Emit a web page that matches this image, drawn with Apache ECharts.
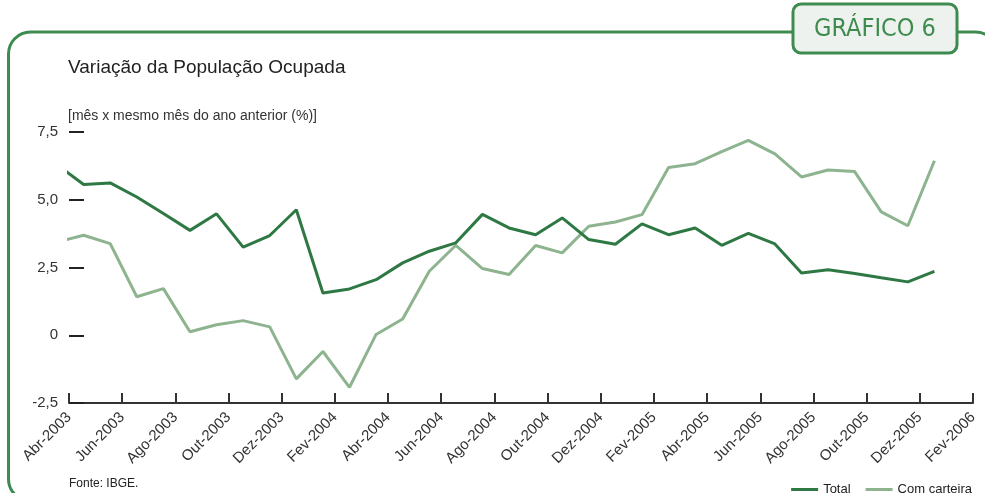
<!DOCTYPE html>
<html>
<head>
<meta charset="utf-8">
<script src="https://cdn.jsdelivr.net/npm/echarts@6/dist/echarts.min.js"></script>
<style>
html,body{margin:0;padding:0;background:#fff;}
#chart{width:985px;height:493px;}
</style>
</head>
<body>
<div id="chart"></div>
<script>
// Data months (first month only partly visible: it sits before the axis start)
const dataMonths = ['Mar-2003','Abr-2003','Mai-2003','Jun-2003','Jul-2003','Ago-2003','Set-2003','Out-2003','Nov-2003','Dez-2003',
  'Jan-2004','Fev-2004','Mar-2004','Abr-2004','Mai-2004','Jun-2004','Jul-2004','Ago-2004','Set-2004','Out-2004','Nov-2004','Dez-2004',
  'Jan-2005','Fev-2005','Mar-2005','Abr-2005','Mai-2005','Jun-2005','Jul-2005','Ago-2005','Set-2005','Out-2005','Nov-2005','Dez-2005'];
const totalValues = [6.29, 5.56, 5.62, 5.10, 4.49, 3.87, 4.48, 3.25, 3.68, 4.63, 1.56, 1.71, 2.05, 2.67, 3.10, 3.41, 4.46,
  3.96, 3.71, 4.33, 3.53, 3.36, 4.11, 3.71, 3.96, 3.32, 3.76, 3.37, 2.30, 2.42, 2.28, 2.12, 1.97, 2.36];
const carteiraValues = [3.44, 3.69, 3.38, 1.42, 1.72, 0.13, 0.39, 0.54, 0.31, -1.61, -0.60, -1.92, 0.03, 0.60, 2.36, 3.32, 2.46,
  2.24, 3.31, 3.04, 4.02, 4.18, 4.45, 6.19, 6.33, 6.78, 7.19, 6.69, 5.84, 6.10, 6.04, 4.55, 4.04, 6.44];
const xTickLabels = ['Abr-2003','Jun-2003','Ago-2003','Out-2003','Dez-2003','Fev-2004','Abr-2004','Jun-2004','Ago-2004',
  'Out-2004','Dez-2004','Fev-2005','Abr-2005','Jun-2005','Ago-2005','Out-2005','Dez-2005','Fev-2006'];
const yTickValues = [-2.5, 0, 2.5, 5, 7.5];
const yTickLabels = ['-2,5', '0', '2,5', '5,0', '7,5'];

// month position on the axis: months since Abr-2003, points plotted mid-month
const firstMonthOffset = -1;
const inMonthOffset = 0.55;
const toPairs = vals => vals.map((v, i) => [i + firstMonthOffset + inMonthOffset, v]);

const GREEN = '#3d8b4f';
const chart = echarts.init(document.getElementById('chart'), null, {renderer: 'canvas'});
chart.setOption({
  animation: false,
  backgroundColor: '#ffffff',
  textStyle: {fontFamily: 'Liberation Sans'},
  graphic: [
    {type: 'rect', z: 0, shape: {x: 8.5, y: 32, width: 989, height: 469, r: 22},
      style: {fill: 'none', stroke: GREEN, lineWidth: 3}},
    {type: 'rect', z: 1, shape: {x: 793, y: 4, width: 164, height: 49, r: 8},
      style: {fill: '#eef2ee', stroke: GREEN, lineWidth: 3}},
    {type: 'text', z: 2, x: 875, y: 29,
      style: {text: 'GRÁFICO 6', fill: GREEN, font: '25px "Liberation Sans Narrow", "DejaVu Sans Condensed", sans-serif',
        textAlign: 'center', textVerticalAlign: 'middle'}},
    {type: 'text', z: 2, x: 68, y: 68,
      style: {text: 'Variação da População Ocupada', fill: '#222', font: '19px "Liberation Sans", sans-serif',
        textVerticalAlign: 'middle'}},
    {type: 'text', z: 2, x: 68, y: 116,
      style: {text: '[mês x mesmo mês do ano anterior (%)]', fill: '#333', font: '14px "Liberation Sans", sans-serif',
        textVerticalAlign: 'middle'}},
    {type: 'text', z: 2, x: 69, y: 484,
      style: {text: 'Fonte: IBGE.', fill: '#222', font: '12px "Liberation Sans", sans-serif',
        textVerticalAlign: 'middle'}}
  ],
  legend: {
    right: 8, top: 478, itemWidth: 27, itemHeight: 3, itemGap: 15, icon: 'rect',
    textStyle: {fontSize: 13, color: '#222', fontFamily: 'Liberation Sans'},
    data: ['Total', 'Com carteira']
  },
  grid: {left: 69, right: 12, top: 132, bottom: 90, containLabel: false},
  xAxis: {
    type: 'value', min: 0, max: 34, interval: 2,
    axisLine: {show: true, onZero: false, lineStyle: {color: '#333', width: 2}},
    axisTick: {show: true, inside: true, length: 10, lineStyle: {color: '#333', width: 2}},
    splitLine: {show: false},
    axisLabel: {
      rotate: 45, fontSize: 15, color: '#333', margin: 12,
      formatter: v => xTickLabels[Math.round(v / 2)] || ''
    }
  },
  yAxis: {
    type: 'value', min: -2.5, max: 7.5, interval: 2.5,
    axisLine: {show: false},
    axisTick: {show: true, inside: true, length: 15, lineStyle: {color: '#222', width: 2}},
    splitLine: {show: false},
    axisLabel: {
      fontSize: 15, color: '#333', margin: 11,
      formatter: v => yTickLabels[yTickValues.indexOf(v)] ?? ''
    }
  },
  series: [
    {name: 'Total', type: 'line', data: toPairs(totalValues), showSymbol: false, clip: true,
      lineStyle: {color: '#2e7844', width: 3}, itemStyle: {color: '#2e7844'}, z: 3},
    {name: 'Com carteira', type: 'line', data: toPairs(carteiraValues), showSymbol: false, clip: true,
      lineStyle: {color: '#8db48f', width: 3}, itemStyle: {color: '#8db48f'}, z: 2}
  ]
});
</script>
</body>
</html>
